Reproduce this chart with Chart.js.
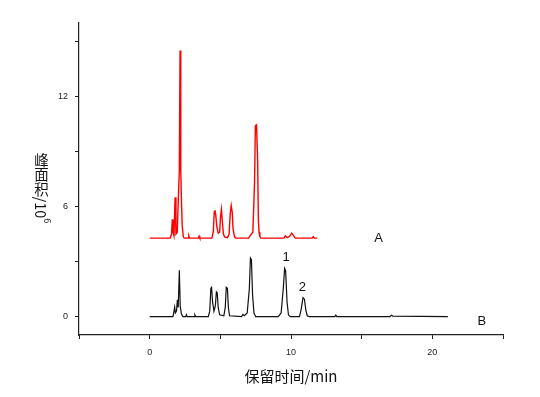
<!DOCTYPE html>
<html>
<head>
<meta charset="utf-8">
<script src="https://cdn.jsdelivr.net/npm/chart.js"></script>
<style>
  html,body{margin:0;padding:0;background:#fff;}
  #wrap{position:relative;width:540px;height:397px;}
  #ylab{position:absolute;left:32px;top:153px;writing-mode:vertical-rl;text-orientation:mixed;
        font:14.5px "Noto Sans CJK SC","Liberation Sans",sans-serif;color:#111;line-height:18px;}
  #ylab sup{font-size:9px;}
</style>
</head>
<body>
<div id="wrap">
  <canvas id="c" width="540" height="397"></canvas>
  <div id="ylab">峰面积/10<sup>6</sup></div>
</div>
<script>
/* ===== data ===== */
// trace A (red), retention time in min / peak area
const tA = [0,1.45,1.55,1.6,1.65,1.72,1.8,1.86,1.95,2.02,2.1,2.15,2.2,2.25,2.3,2.38,2.45,
  2.72,2.77,2.82,3.45,3.5,3.55,4.4,4.5,4.57,4.62,4.68,4.75,4.85,4.95,5.02,5.08,5.14,5.22,5.3,
  5.5,5.62,5.7,5.77,5.84,5.9,6.0,6.1,7.0,7.1,7.3,7.42,7.48,7.56,7.64,7.69,7.74,7.8,7.88,
  9.5,9.6,9.75,9.9,10.05,10.2,10.3,11.5,11.57,11.65,11.85];
const yA = [4.28,4.28,4.5,5.3,4.6,4.4,6.5,4.5,4.6,6.2,8.0,14.5,8.0,6.3,5.0,4.35,4.28,
  4.28,4.4,4.28,4.28,4.38,4.28,4.28,4.6,5.7,5.8,5.5,4.9,4.55,4.6,5.5,5.85,5.2,4.5,4.35,
  4.3,4.5,5.6,6.05,5.7,4.8,4.35,4.28,4.28,4.4,4.6,7.3,10.4,10.45,8.5,5.3,4.6,4.35,4.28,
  4.28,4.4,4.3,4.38,4.55,4.4,4.28,4.28,4.36,4.28,4.28];
// trace B (black)
const tB = [0,1.65,1.72,1.77,1.82,1.9,1.96,2.02,2.1,2.16,2.24,2.35,2.55,2.6,2.66,3.15,3.2,3.26,
  4.15,4.25,4.33,4.38,4.45,4.55,4.65,4.72,4.78,4.85,4.95,5.25,5.35,5.42,5.5,5.57,5.65,
  6.5,6.6,6.7,6.9,7.05,7.13,7.2,7.28,7.38,7.5,9.1,9.3,9.45,9.55,9.62,9.72,9.82,9.95,
  10.6,10.72,10.85,10.95,11.05,11.15,11.3,13.1,13.17,13.24,17.0,17.1,17.2,21.1];
const yB = [0,0,0.3,0.52,0.2,0.3,0.92,0.5,2.53,0.6,0.15,0,0,0.1,0,0,0.1,0,
  0,0.3,1.55,1.6,0.8,0.3,0.6,1.35,1.3,0.5,0.1,0.05,0.5,1.6,1.55,0.5,0.05,
  0,0.12,0.05,0.2,1.5,3.19,3.1,1.2,0.2,0,0,0.2,1.5,2.63,2.5,0.8,0.1,0,
  0,0.4,1.04,0.95,0.35,0.05,0,0,0.08,0,0,0.08,0.03,0];

const xTicks = [-5,0,5,10,15,20,25];
const xTickLabels = ['','0','','10','','20',''];
const yTicks = [0,3,6,9,12,15];
const yTickLabels = ['0','','6','','12',''];

// text notes placed in data units
const notes = [
  {text:'A', x:16.2, y:4.28},
  {text:'B', x:23.5, y:-0.27},
  {text:'1', x:9.65, y:3.25},
  {text:'2', x:10.8, y:1.6}
];

/* ===== chart ===== */
const pts = (t,y)=>t.map((v,i)=>({x:v,y:y[i]}));

const notePlugin = {
  id:'notes',
  afterDatasetsDraw(chart){
    const {ctx, scales:{x,y}} = chart;
    ctx.save();
    ctx.font = '13px "Liberation Sans", Arial, sans-serif';
    ctx.fillStyle = '#111';
    ctx.textAlign = 'center';
    ctx.textBaseline = 'middle';
    notes.forEach(n=>ctx.fillText(n.text, x.getPixelForValue(n.x), y.getPixelForValue(n.y)));
    ctx.restore();
  }
};

new Chart(document.getElementById('c'),{
  type:'line',
  data:{
    datasets:[
      {label:'A', data:pts(tA,yA), borderColor:'#ff0000', borderWidth:1.4, pointRadius:0, tension:0},
      {label:'B', data:pts(tB,yB), borderColor:'#111', borderWidth:1.2, pointRadius:0, tension:0}
    ]
  },
  options:{
    responsive:false,
    animation:false,
    devicePixelRatio:1,
    layout:{padding:{left:0, top:23, right:37, bottom:0}},
    plugins:{legend:{display:false}, tooltip:{enabled:false}},
    scales:{
      x:{
        type:'linear', min:-5, max:25,
        afterBuildTicks:s=>{s.ticks = xTicks.map(v=>({value:v}));},
        afterFit:s=>{s.height = 62;},
        grid:{drawOnChartArea:false, tickLength:4, tickColor:'#222'},
        border:{color:'#222', width:1.2},
        ticks:{color:'#222', padding:8, maxRotation:0, autoSkip:false,
               font:{size:9, family:'"Liberation Sans", Arial, sans-serif'},
               callback:(v,i)=>xTickLabels[i]},
        title:{display:true, text:'保留时间/min', color:'#111', padding:{top:4, bottom:12},
               font:{size:15, family:'"Noto Sans CJK SC", "Liberation Sans", sans-serif'}}
      },
      y:{
        type:'linear', min:-1, max:16,
        afterBuildTicks:s=>{s.ticks = yTicks.map(v=>({value:v}));},
        afterFit:s=>{s.width = 79;},
        grid:{drawOnChartArea:false, tickLength:4, tickColor:'#222'},
        border:{color:'#222', width:1.2},
        ticks:{color:'#222', padding:7, autoSkip:false,
               font:{size:9, family:'"Liberation Sans", Arial, sans-serif'},
               callback:(v,i)=>yTickLabels[i]}
      }
    }
  },
  plugins:[notePlugin]
});
</script>
</body>
</html>
